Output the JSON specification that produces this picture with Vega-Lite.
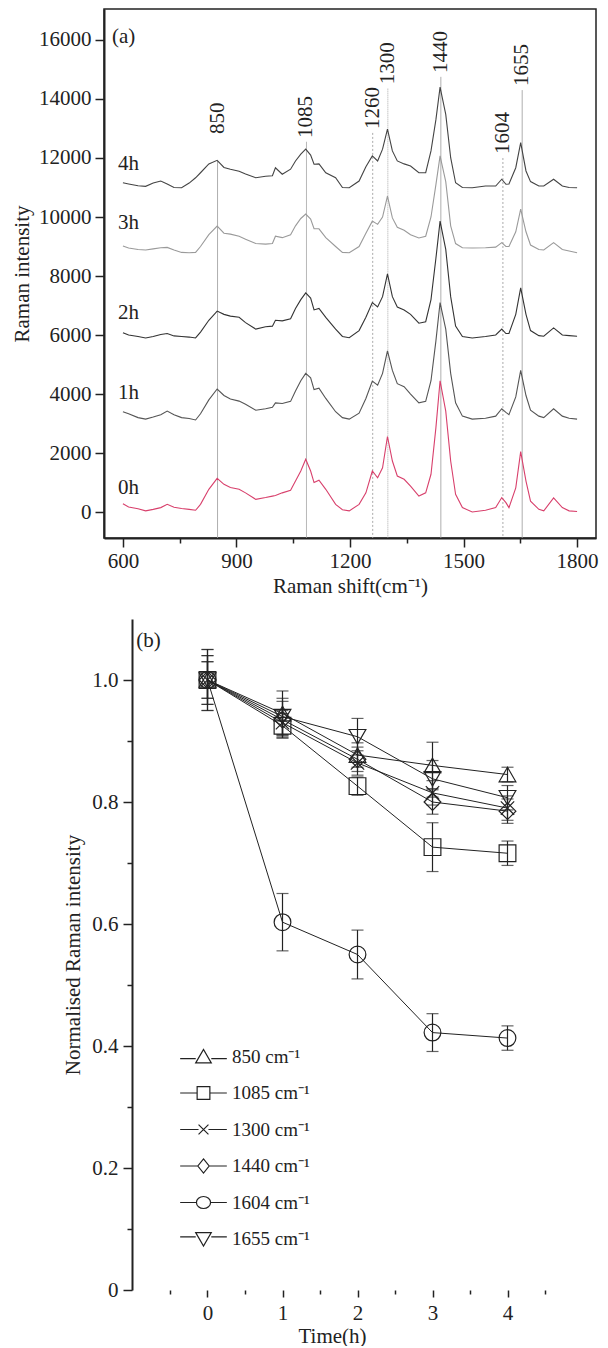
{
"$schema":"https://vega.github.io/schema/vega-lite/v6.json",
"background":"white",
"padding":{"left":10,"top":8,"right":5,"bottom":0},
"config":{
 "font":"Liberation Serif",
 "view":{"stroke":"#222","strokeWidth":1.5},
 "axis":{"domainColor":"#222","domainWidth":2,"tickColor":"#222","tickWidth":1.5,"labelFont":"Liberation Serif","labelFontSize":21,"labelColor":"#222","titleFont":"Liberation Serif","titleFontSize":21,"titleFontWeight":"normal","titleColor":"#222","grid":false,"labelOverlap":false},
 "legend":{"labelFont":"Liberation Serif","labelFontSize":19,"labelColor":"#222"}
},
"datasets":{
"spec":[
{"s":"0h","w":600,"i":280},{"s":"0h","w":615,"i":170},{"s":"0h","w":640,"i":110},{"s":"0h","w":660,"i":40},{"s":"0h","w":680,"i":90},{"s":"0h","w":700,"i":150},{"s":"0h","w":717,"i":260},{"s":"0h","w":735,"i":160},{"s":"0h","w":755,"i":120},{"s":"0h","w":775,"i":90},{"s":"0h","w":792,"i":60},{"s":"0h","w":805,"i":260},{"s":"0h","w":827,"i":770},{"s":"0h","w":849,"i":1140},{"s":"0h","w":867,"i":940},{"s":"0h","w":884,"i":830},{"s":"0h","w":907,"i":770},{"s":"0h","w":924,"i":650},{"s":"0h","w":951,"i":430},{"s":"0h","w":977,"i":490},{"s":"0h","w":995,"i":540},{"s":"0h","w":1003,"i":560},{"s":"0h","w":1021,"i":650},{"s":"0h","w":1043,"i":740},{"s":"0h","w":1056,"i":1050},{"s":"0h","w":1070,"i":1390},{"s":"0h","w":1083,"i":1790},{"s":"0h","w":1096,"i":1390},{"s":"0h","w":1105,"i":1000},{"s":"0h","w":1118,"i":1080},{"s":"0h","w":1136,"i":770},{"s":"0h","w":1162,"i":260},{"s":"0h","w":1180,"i":80},{"s":"0h","w":1198,"i":40},{"s":"0h","w":1224,"i":260},{"s":"0h","w":1242,"i":650},{"s":"0h","w":1259,"i":1390},{"s":"0h","w":1273,"i":1160},{"s":"0h","w":1286,"i":1500},{"s":"0h","w":1299,"i":2560},{"s":"0h","w":1312,"i":1730},{"s":"0h","w":1325,"i":1220},{"s":"0h","w":1343,"i":1110},{"s":"0h","w":1360,"i":880},{"s":"0h","w":1382,"i":540},{"s":"0h","w":1400,"i":650},{"s":"0h","w":1414,"i":1280},{"s":"0h","w":1427,"i":2860},{"s":"0h","w":1438,"i":4450},{"s":"0h","w":1453,"i":3420},{"s":"0h","w":1466,"i":1730},{"s":"0h","w":1479,"i":600},{"s":"0h","w":1497,"i":150},{"s":"0h","w":1523,"i":0},{"s":"0h","w":1558,"i":60},{"s":"0h","w":1585,"i":150},{"s":"0h","w":1601,"i":490},{"s":"0h","w":1612,"i":320},{"s":"0h","w":1620,"i":150},{"s":"0h","w":1638,"i":820},{"s":"0h","w":1651,"i":2050},{"s":"0h","w":1665,"i":1050},{"s":"0h","w":1677,"i":370},{"s":"0h","w":1699,"i":90},{"s":"0h","w":1712,"i":40},{"s":"0h","w":1738,"i":480},{"s":"0h","w":1761,"i":150},{"s":"0h","w":1779,"i":40},{"s":"0h","w":1800,"i":20},
{"s":"1h","w":600,"i":3400},{"s":"1h","w":615,"i":3330},{"s":"1h","w":640,"i":3200},{"s":"1h","w":660,"i":3150},{"s":"1h","w":680,"i":3220},{"s":"1h","w":700,"i":3300},{"s":"1h","w":717,"i":3420},{"s":"1h","w":735,"i":3300},{"s":"1h","w":755,"i":3200},{"s":"1h","w":775,"i":3170},{"s":"1h","w":792,"i":3120},{"s":"1h","w":805,"i":3330},{"s":"1h","w":827,"i":3800},{"s":"1h","w":849,"i":4170},{"s":"1h","w":867,"i":3950},{"s":"1h","w":884,"i":3830},{"s":"1h","w":907,"i":3760},{"s":"1h","w":924,"i":3650},{"s":"1h","w":951,"i":3450},{"s":"1h","w":977,"i":3500},{"s":"1h","w":995,"i":3550},{"s":"1h","w":1003,"i":3700},{"s":"1h","w":1021,"i":3680},{"s":"1h","w":1043,"i":3750},{"s":"1h","w":1056,"i":4100},{"s":"1h","w":1070,"i":4450},{"s":"1h","w":1083,"i":4700},{"s":"1h","w":1096,"i":4550},{"s":"1h","w":1105,"i":4150},{"s":"1h","w":1118,"i":4200},{"s":"1h","w":1136,"i":3850},{"s":"1h","w":1162,"i":3400},{"s":"1h","w":1180,"i":3200},{"s":"1h","w":1198,"i":3150},{"s":"1h","w":1224,"i":3350},{"s":"1h","w":1242,"i":3850},{"s":"1h","w":1259,"i":4440},{"s":"1h","w":1273,"i":4300},{"s":"1h","w":1286,"i":4700},{"s":"1h","w":1299,"i":5460},{"s":"1h","w":1312,"i":4800},{"s":"1h","w":1325,"i":4350},{"s":"1h","w":1343,"i":4250},{"s":"1h","w":1360,"i":4000},{"s":"1h","w":1382,"i":3700},{"s":"1h","w":1400,"i":3750},{"s":"1h","w":1414,"i":4450},{"s":"1h","w":1427,"i":5800},{"s":"1h","w":1438,"i":7100},{"s":"1h","w":1453,"i":6200},{"s":"1h","w":1466,"i":4700},{"s":"1h","w":1479,"i":3700},{"s":"1h","w":1497,"i":3250},{"s":"1h","w":1523,"i":3150},{"s":"1h","w":1558,"i":3180},{"s":"1h","w":1585,"i":3250},{"s":"1h","w":1601,"i":3500},{"s":"1h","w":1612,"i":3380},{"s":"1h","w":1620,"i":3300},{"s":"1h","w":1638,"i":3900},{"s":"1h","w":1651,"i":4800},{"s":"1h","w":1665,"i":3950},{"s":"1h","w":1677,"i":3450},{"s":"1h","w":1699,"i":3250},{"s":"1h","w":1712,"i":3200},{"s":"1h","w":1738,"i":3500},{"s":"1h","w":1761,"i":3250},{"s":"1h","w":1779,"i":3180},{"s":"1h","w":1800,"i":3150},
{"s":"2h","w":600,"i":6080},{"s":"2h","w":615,"i":6000},{"s":"2h","w":640,"i":5950},{"s":"2h","w":660,"i":5900},{"s":"2h","w":680,"i":5950},{"s":"2h","w":700,"i":6020},{"s":"2h","w":717,"i":6050},{"s":"2h","w":735,"i":5970},{"s":"2h","w":755,"i":5950},{"s":"2h","w":775,"i":5930},{"s":"2h","w":792,"i":5900},{"s":"2h","w":805,"i":6100},{"s":"2h","w":827,"i":6500},{"s":"2h","w":849,"i":6810},{"s":"2h","w":867,"i":6700},{"s":"2h","w":884,"i":6640},{"s":"2h","w":907,"i":6600},{"s":"2h","w":924,"i":6420},{"s":"2h","w":951,"i":6200},{"s":"2h","w":977,"i":6280},{"s":"2h","w":995,"i":6300},{"s":"2h","w":1003,"i":6500},{"s":"2h","w":1021,"i":6480},{"s":"2h","w":1043,"i":6550},{"s":"2h","w":1056,"i":6900},{"s":"2h","w":1070,"i":7200},{"s":"2h","w":1083,"i":7430},{"s":"2h","w":1096,"i":7250},{"s":"2h","w":1105,"i":6850},{"s":"2h","w":1118,"i":6900},{"s":"2h","w":1136,"i":6600},{"s":"2h","w":1162,"i":6200},{"s":"2h","w":1180,"i":5950},{"s":"2h","w":1198,"i":5910},{"s":"2h","w":1224,"i":6150},{"s":"2h","w":1242,"i":6600},{"s":"2h","w":1259,"i":7100},{"s":"2h","w":1273,"i":6950},{"s":"2h","w":1286,"i":7300},{"s":"2h","w":1299,"i":8070},{"s":"2h","w":1312,"i":7300},{"s":"2h","w":1325,"i":6950},{"s":"2h","w":1343,"i":6850},{"s":"2h","w":1360,"i":6700},{"s":"2h","w":1382,"i":6400},{"s":"2h","w":1400,"i":6450},{"s":"2h","w":1414,"i":7200},{"s":"2h","w":1427,"i":8600},{"s":"2h","w":1438,"i":9860},{"s":"2h","w":1453,"i":8900},{"s":"2h","w":1466,"i":7300},{"s":"2h","w":1479,"i":6300},{"s":"2h","w":1497,"i":5950},{"s":"2h","w":1523,"i":5900},{"s":"2h","w":1558,"i":5950},{"s":"2h","w":1585,"i":6000},{"s":"2h","w":1601,"i":6200},{"s":"2h","w":1612,"i":6050},{"s":"2h","w":1620,"i":6050},{"s":"2h","w":1638,"i":6700},{"s":"2h","w":1651,"i":7600},{"s":"2h","w":1665,"i":6700},{"s":"2h","w":1677,"i":6150},{"s":"2h","w":1699,"i":5980},{"s":"2h","w":1712,"i":5960},{"s":"2h","w":1738,"i":6240},{"s":"2h","w":1761,"i":6000},{"s":"2h","w":1779,"i":5980},{"s":"2h","w":1800,"i":5960},
{"s":"3h","w":600,"i":9020},{"s":"3h","w":615,"i":8950},{"s":"3h","w":640,"i":8900},{"s":"3h","w":660,"i":8880},{"s":"3h","w":680,"i":8920},{"s":"3h","w":700,"i":8960},{"s":"3h","w":717,"i":8970},{"s":"3h","w":735,"i":8880},{"s":"3h","w":755,"i":8800},{"s":"3h","w":775,"i":8790},{"s":"3h","w":792,"i":8800},{"s":"3h","w":805,"i":9000},{"s":"3h","w":827,"i":9400},{"s":"3h","w":849,"i":9690},{"s":"3h","w":867,"i":9450},{"s":"3h","w":884,"i":9420},{"s":"3h","w":907,"i":9350},{"s":"3h","w":924,"i":9250},{"s":"3h","w":951,"i":9100},{"s":"3h","w":977,"i":9080},{"s":"3h","w":995,"i":9100},{"s":"3h","w":1003,"i":9350},{"s":"3h","w":1021,"i":9300},{"s":"3h","w":1043,"i":9400},{"s":"3h","w":1056,"i":9700},{"s":"3h","w":1070,"i":9950},{"s":"3h","w":1083,"i":10100},{"s":"3h","w":1096,"i":9930},{"s":"3h","w":1105,"i":9600},{"s":"3h","w":1118,"i":9600},{"s":"3h","w":1136,"i":9300},{"s":"3h","w":1162,"i":9000},{"s":"3h","w":1180,"i":8800},{"s":"3h","w":1198,"i":8790},{"s":"3h","w":1224,"i":9000},{"s":"3h","w":1242,"i":9450},{"s":"3h","w":1259,"i":9860},{"s":"3h","w":1273,"i":9750},{"s":"3h","w":1286,"i":10000},{"s":"3h","w":1299,"i":10710},{"s":"3h","w":1312,"i":9970},{"s":"3h","w":1325,"i":9650},{"s":"3h","w":1343,"i":9550},{"s":"3h","w":1360,"i":9400},{"s":"3h","w":1382,"i":9290},{"s":"3h","w":1400,"i":9350},{"s":"3h","w":1414,"i":10000},{"s":"3h","w":1427,"i":11100},{"s":"3h","w":1438,"i":12070},{"s":"3h","w":1453,"i":11200},{"s":"3h","w":1466,"i":9700},{"s":"3h","w":1479,"i":9100},{"s":"3h","w":1497,"i":8960},{"s":"3h","w":1523,"i":8950},{"s":"3h","w":1558,"i":8960},{"s":"3h","w":1585,"i":8980},{"s":"3h","w":1601,"i":9130},{"s":"3h","w":1612,"i":9000},{"s":"3h","w":1620,"i":9000},{"s":"3h","w":1638,"i":9500},{"s":"3h","w":1651,"i":10270},{"s":"3h","w":1665,"i":9500},{"s":"3h","w":1677,"i":9050},{"s":"3h","w":1699,"i":8900},{"s":"3h","w":1712,"i":8880},{"s":"3h","w":1738,"i":9130},{"s":"3h","w":1761,"i":8900},{"s":"3h","w":1779,"i":8850},{"s":"3h","w":1800,"i":8790},
{"s":"4h","w":600,"i":11160},{"s":"4h","w":615,"i":11120},{"s":"4h","w":640,"i":11060},{"s":"4h","w":660,"i":11040},{"s":"4h","w":680,"i":11150},{"s":"4h","w":700,"i":11220},{"s":"4h","w":717,"i":11120},{"s":"4h","w":735,"i":11000},{"s":"4h","w":755,"i":10990},{"s":"4h","w":775,"i":11150},{"s":"4h","w":792,"i":11330},{"s":"4h","w":805,"i":11500},{"s":"4h","w":827,"i":11800},{"s":"4h","w":849,"i":11920},{"s":"4h","w":867,"i":11680},{"s":"4h","w":884,"i":11620},{"s":"4h","w":907,"i":11550},{"s":"4h","w":924,"i":11460},{"s":"4h","w":951,"i":11330},{"s":"4h","w":977,"i":11380},{"s":"4h","w":995,"i":11400},{"s":"4h","w":1003,"i":11670},{"s":"4h","w":1021,"i":11450},{"s":"4h","w":1043,"i":11620},{"s":"4h","w":1056,"i":11900},{"s":"4h","w":1070,"i":12130},{"s":"4h","w":1083,"i":12300},{"s":"4h","w":1096,"i":12100},{"s":"4h","w":1105,"i":11790},{"s":"4h","w":1118,"i":11800},{"s":"4h","w":1136,"i":11500},{"s":"4h","w":1162,"i":11330},{"s":"4h","w":1180,"i":11000},{"s":"4h","w":1198,"i":10990},{"s":"4h","w":1224,"i":11220},{"s":"4h","w":1242,"i":11700},{"s":"4h","w":1259,"i":12070},{"s":"4h","w":1273,"i":11900},{"s":"4h","w":1286,"i":12300},{"s":"4h","w":1299,"i":12980},{"s":"4h","w":1312,"i":12240},{"s":"4h","w":1325,"i":11900},{"s":"4h","w":1343,"i":11800},{"s":"4h","w":1360,"i":11730},{"s":"4h","w":1382,"i":11500},{"s":"4h","w":1400,"i":11500},{"s":"4h","w":1414,"i":12240},{"s":"4h","w":1427,"i":13300},{"s":"4h","w":1438,"i":14400},{"s":"4h","w":1453,"i":13480},{"s":"4h","w":1466,"i":12010},{"s":"4h","w":1479,"i":11160},{"s":"4h","w":1497,"i":11000},{"s":"4h","w":1523,"i":10990},{"s":"4h","w":1558,"i":11050},{"s":"4h","w":1585,"i":11050},{"s":"4h","w":1601,"i":11280},{"s":"4h","w":1612,"i":11110},{"s":"4h","w":1620,"i":11120},{"s":"4h","w":1638,"i":11670},{"s":"4h","w":1651,"i":12520},{"s":"4h","w":1665,"i":11560},{"s":"4h","w":1677,"i":11200},{"s":"4h","w":1699,"i":11050},{"s":"4h","w":1712,"i":11050},{"s":"4h","w":1738,"i":11280},{"s":"4h","w":1761,"i":11050},{"s":"4h","w":1779,"i":11000},{"s":"4h","w":1800,"i":10990}
],
"peaks":[
{"peak":850,"top":11900,"lab":12814,"kind":"solid"},
{"peak":1085,"top":12550,"lab":12680,"kind":"solid"},
{"peak":1260,"top":12850,"lab":12980,"kind":"dotted"},
{"peak":1300,"top":14350,"lab":14500,"kind":"dense"},
{"peak":1440,"top":14750,"lab":14880,"kind":"solid"},
{"peak":1604,"top":12000,"lab":12135,"kind":"dotted"},
{"peak":1655,"top":14300,"lab":14440,"kind":"solid"}
],
"slabels":[
{"t":"(a)","w":571,"i":16100},
{"t":"4h","w":587,"i":11800},
{"t":"3h","w":587,"i":9800},
{"t":"2h","w":587,"i":6750},
{"t":"1h","w":587,"i":4030},
{"t":"0h","w":587,"i":810}
],
"norm":[
{"series":"850 cm⁻¹","t":0,"v":1.0,"e":0.05},{"series":"850 cm⁻¹","t":1,"v":0.945,"e":0.037},{"series":"850 cm⁻¹","t":2,"v":0.877,"e":0.02},{"series":"850 cm⁻¹","t":3,"v":0.86,"e":0.038},{"series":"850 cm⁻¹","t":4,"v":0.845,"e":0.012},
{"series":"1085 cm⁻¹","t":0,"v":1.0,"e":0.03},{"series":"1085 cm⁻¹","t":1,"v":0.925,"e":0.02},{"series":"1085 cm⁻¹","t":2,"v":0.826,"e":0.015},{"series":"1085 cm⁻¹","t":3,"v":0.726,"e":0.04},{"series":"1085 cm⁻¹","t":4,"v":0.716,"e":0.02},
{"series":"1300 cm⁻¹","t":0,"v":1.0,"e":0.03},{"series":"1300 cm⁻¹","t":1,"v":0.93,"e":0.02},{"series":"1300 cm⁻¹","t":2,"v":0.864,"e":0.02},{"series":"1300 cm⁻¹","t":3,"v":0.815,"e":0.02},{"series":"1300 cm⁻¹","t":4,"v":0.79,"e":0.02},
{"series":"1440 cm⁻¹","t":0,"v":1.0,"e":0.04},{"series":"1440 cm⁻¹","t":1,"v":0.935,"e":0.03},{"series":"1440 cm⁻¹","t":2,"v":0.87,"e":0.02},{"series":"1440 cm⁻¹","t":3,"v":0.8,"e":0.02},{"series":"1440 cm⁻¹","t":4,"v":0.785,"e":0.02},
{"series":"1604 cm⁻¹","t":0,"v":1.0,"e":0.05},{"series":"1604 cm⁻¹","t":1,"v":0.603,"e":0.047},{"series":"1604 cm⁻¹","t":2,"v":0.55,"e":0.04},{"series":"1604 cm⁻¹","t":3,"v":0.422,"e":0.031},{"series":"1604 cm⁻¹","t":4,"v":0.413,"e":0.02},
{"series":"1655 cm⁻¹","t":0,"v":1.0,"e":0.04},{"series":"1655 cm⁻¹","t":1,"v":0.94,"e":0.03},{"series":"1655 cm⁻¹","t":2,"v":0.907,"e":0.03},{"series":"1655 cm⁻¹","t":3,"v":0.838,"e":0.03},{"series":"1655 cm⁻¹","t":4,"v":0.807,"e":0.02}
],
"blabel":[{"t":-0.95,"v":1.064,"lab":"(b)"}]
},
"spacing":22,
"vconcat":[
{
"width":492,"height":529,
"layer":[
{"data":{"name":"peaks"},
 "mark":{"type":"rule","color":"#a0a0a0","strokeWidth":0.9},
 "encoding":{
  "x":{"field":"peak","type":"quantitative","title":"Raman shift(cm⁻¹)","scale":{"domain":[550,1850],"nice":false,"zero":false},
   "axis":{"values":[600,750,900,1050,1200,1350,1500,1650,1800],"labelExpr":"datum.value % 300 === 0 ? datum.label : ''","tickSize":{"condition":{"test":"datum.value % 300 === 0","value":9},"value":5},"labelPadding":3,"titlePadding":4,"format":"d"}},
  "y":{"field":"top","type":"quantitative","title":"Raman intensity","scale":{"domain":[-880,17050],"nice":false,"zero":false},
   "axis":{"values":[0,1000,2000,3000,4000,5000,6000,7000,8000,9000,10000,11000,12000,13000,14000,15000,16000],"labelExpr":"datum.value % 2000 === 0 ? datum.label : ''","tickSize":{"condition":{"test":"datum.value % 2000 === 0","value":9},"value":5},"labelPadding":4,"titlePadding":6,"format":"d"}},
  "y2":{"datum":-880},
  "strokeDash":{"field":"kind","type":"nominal","scale":{"domain":["solid","dotted","dense"],"range":[[1,0],[2,2],[1,1]]},"legend":null}
 }},
{"data":{"name":"spec"},
 "mark":{"type":"line","strokeWidth":1.1},
 "encoding":{
  "x":{"field":"w","type":"quantitative","title":"Raman shift(cm⁻¹)"},
  "y":{"field":"i","type":"quantitative","title":"Raman intensity"},
  "color":{"field":"s","type":"nominal","scale":{"domain":["0h","1h","2h","3h","4h"],"range":["#d8406c","#555555","#333333","#9a9a9a","#444444"]},"legend":null}
 }},
{"data":{"name":"peaks"},
 "mark":{"type":"text","angle":270,"align":"left","baseline":"middle","fontSize":21,"color":"#222","font":"Liberation Serif"},
 "encoding":{
  "x":{"field":"peak","type":"quantitative","title":"Raman shift(cm⁻¹)"},
  "y":{"field":"lab","type":"quantitative","title":"Raman intensity"},
  "text":{"field":"peak","type":"quantitative","format":"d"}
 }},
{"data":{"name":"slabels"},
 "mark":{"type":"text","align":"left","baseline":"middle","fontSize":21,"color":"#222","font":"Liberation Serif"},
 "encoding":{
  "x":{"field":"w","type":"quantitative","title":"Raman shift(cm⁻¹)"},
  "y":{"field":"i","type":"quantitative","title":"Raman intensity"},
  "text":{"field":"t","type":"nominal"}
 }}
]
},
{
"width":441,"height":671,
"view":{"stroke":null},
"resolve":{"scale":{"shape":"independent"},"legend":{"shape":"independent"}},
"layer":[
{"mark":{"type":"rect","fill":"transparent","stroke":"#222","strokeWidth":1.5},
 "encoding":{
  "x":{"datum":-1,"type":"quantitative"},
  "x2":{"datum":4.5},
  "y":{"datum":0,"type":"quantitative"},
  "y2":{"datum":1.1}
 }},
{"mark":{"type":"rule","color":"#222","strokeWidth":2},
 "encoding":{
  "x":{"datum":-1,"type":"quantitative"},
  "x2":{"datum":4.5},
  "y":{"datum":0,"type":"quantitative"}
 }},
{"data":{"name":"norm"},
 "mark":{"type":"line","color":"#222","strokeWidth":1},
 "encoding":{
  "x":{"field":"t","type":"quantitative","title":"Time(h)","scale":{"domain":[-1.38,4.5],"nice":false,"zero":false},
   "axis":{"domain":false,"values":[-0.5,0,0.5,1,1.5,2,2.5,3,3.5,4,4.5],"labelExpr":"round(datum.value*2) % 2 === 0 ? format(datum.value, '.0f') : ''","tickSize":{"condition":{"test":"round(datum.value*2) % 2 === 0","value":7},"value":4},"labelPadding":5,"titlePadding":2,"titleX":228}},
  "y":{"field":"v","type":"quantitative","title":"Normalised Raman intensity","scale":{"domain":[0,1.1],"nice":false,"zero":false},
   "axis":{"offset":-28,"values":[0,0.1,0.2,0.3,0.4,0.5,0.6,0.7,0.8,0.9,1.0],"labelExpr":"round(datum.value*10) % 2 === 0 ? (datum.value === 0 ? '0' : format(datum.value, '.1f')) : ''","tickSize":{"condition":{"test":"round(datum.value*10) % 2 === 0","value":9},"value":5},"labelPadding":5,"titlePadding":8}},
  "detail":{"field":"series","type":"nominal"}
 }},
{"data":{"name":"norm"},
 "mark":{"type":"errorbar","color":"#222","ticks":{"size":12,"color":"#222"},"thickness":1.2},
 "encoding":{
  "x":{"field":"t","type":"quantitative","title":"Time(h)"},
  "y":{"field":"v","type":"quantitative","title":"Normalised Raman intensity"},
  "yError":{"field":"e"}
 }},
{"data":{"name":"norm"},
 "mark":{"type":"point","filled":false,"size":280,"strokeWidth":1.2,"color":"#222","opacity":1},
 "encoding":{
  "x":{"field":"t","type":"quantitative","title":"Time(h)"},
  "y":{"field":"v","type":"quantitative","title":"Normalised Raman intensity"},
  "shape":{"field":"series","type":"nominal","legend":null,
   "scale":{"domain":["850 cm⁻¹","1085 cm⁻¹","1300 cm⁻¹","1440 cm⁻¹","1604 cm⁻¹","1655 cm⁻¹"],"range":["triangle-up","square","M-0.8,-0.8L0.8,0.8M-0.8,0.8L0.8,-0.8","diamond","circle","triangle-down"]}}
 }},
{"data":{"name":"norm"},
 "mark":{"type":"point","filled":false,"size":200,"strokeWidth":1.2,"color":"#222","opacity":0},
 "encoding":{
  "x":{"field":"t","type":"quantitative","title":"Time(h)"},
  "y":{"field":"v","type":"quantitative","title":"Normalised Raman intensity"},
  "shape":{"field":"series","type":"nominal","title":null,
   "scale":{"domain":["850 cm⁻¹","1085 cm⁻¹","1300 cm⁻¹","1440 cm⁻¹","1604 cm⁻¹","1655 cm⁻¹"],"range":["M-3.3,0.3H-1.1M1.1,0.3H3.3M-1.1,0.9L0,-1L1.1,0.9Z","M-3.3,0H-0.9M0.9,0H3.3M-0.9,-0.9H0.9V0.9H-0.9Z","M-3.3,0H-0.7M0.7,0H3.3M-0.7,-0.7L0.7,0.7M-0.7,0.7L0.7,-0.7","M-3.3,0H-0.8M0.8,0H3.3M0,-1L0.8,0L0,1L-0.8,0Z","M-3.3,0H-1M1,0H3.3M-1,0A1,0.85 0 1,0 1,0A1,0.85 0 1,0 -1,0Z","M-3.3,-0.3H-1.1M1.1,-0.3H3.3M-1.1,-0.9L0,1L1.1,-0.9Z"]},
   "legend":{"orient":"none","legendX":90,"legendY":428,"symbolSize":200,"labelOffset":19,"rowPadding":16.5,"symbolStrokeColor":"#222","symbolFillColor":"transparent","symbolStrokeWidth":1.2,"symbolOpacity":1}}
 }},
{"data":{"name":"blabel"},
 "mark":{"type":"text","align":"left","baseline":"middle","fontSize":21,"color":"#222","font":"Liberation Serif"},
 "encoding":{
  "x":{"field":"t","type":"quantitative","title":"Time(h)"},
  "y":{"field":"v","type":"quantitative","title":"Normalised Raman intensity"},
  "text":{"field":"lab","type":"nominal"}
 }}
]
}
]
}
